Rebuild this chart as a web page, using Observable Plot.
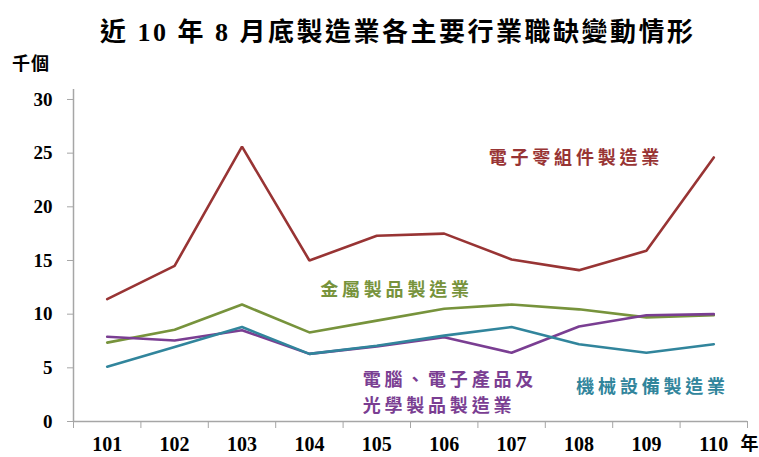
<!DOCTYPE html>
<html>
<head>
<meta charset="utf-8">
<script src="https://cdn.jsdelivr.net/npm/d3@7"></script>
<script src="https://cdn.jsdelivr.net/npm/@observablehq/plot@0.6"></script>
<style>
  html, body { margin: 0; padding: 0; background: #fff; }
  #wrap { position: relative; width: 759px; height: 457px; overflow: hidden; font-family: "Liberation Serif", "Noto Sans CJK TC", serif; }
  #title { position: absolute; left: 100px; top: 15px; white-space: nowrap; font-size: 26px; font-weight: bold; letter-spacing: 2.5px; color: #000; line-height: 36px; z-index: 2; }
  #unit { position: absolute; left: 12px; top: 49px; font-size: 18px; font-weight: bold; color: #000; font-family: "Noto Sans CJK TC", sans-serif; letter-spacing: 1px; z-index: 2; }
  #chart { position: absolute; left: 0; top: 50px; z-index: 1; }
</style>
</head>
<body>
<div id="wrap">
  <div id="chart"></div>
  <div id="title">近 10 年 8 月底製造業各主要行業職缺變動情形</div>
  <div id="unit">千個</div>
</div>
<script>
const years = [101, 102, 103, 104, 105, 106, 107, 108, 109, 110];
const electronicParts = [11.4, 14.5, 25.6, 15.0, 17.3, 17.5, 15.1, 14.1, 15.9, 24.6];
const metalProducts = [7.35, 8.55, 10.9, 8.3, 9.4, 10.5, 10.9, 10.45, 9.7, 9.9];
const computerOptical = [7.9, 7.55, 8.5, 6.3, 7.0, 7.85, 6.4, 8.85, 9.9, 10.0];
const machinery = [5.1, 6.95, 8.8, 6.3, 7.05, 8.0, 8.8, 7.2, 6.4, 7.2];
const yTicks = [0, 5, 10, 15, 20, 25, 30];

const seriesNames = ["電子零組件製造業", "金屬製品製造業", "電腦、電子產品及\n光學製品製造業", "機械設備製造業"];
const seriesValues = [electronicParts, metalProducts, computerOptical, machinery];
const seriesColors = ["#983434", "#77933C", "#7A3E92", "#31859C"];
// label anchor (year position, value) for each series name
const labelX = [106.66, 104.16, 104.79, 107.96];
const labelY = [24.8, 12.5, 2.9, 3.45];

const rows = [];
seriesNames.forEach((name, i) => {
  years.forEach((yr, j) => rows.push({series: name, year: yr, value: seriesValues[i][j]}));
});
const labels = seriesNames.map((name, i) => ({series: name, x: labelX[i], y: labelY[i], color: seriesColors[i]}));
const boundaries = years.map(y => y - 0.5).concat([years[years.length - 1] + 0.5]);

const W = 759, H = 407;
const plot = Plot.plot({
  width: W,
  height: H,
  marginLeft: 73,
  marginRight: 12,
  marginTop: 39,
  marginBottom: 36,
  style: {fontFamily: '"Liberation Serif", "Noto Sans CJK TC", serif', fontSize: "19px", fontWeight: "bold", color: "#000", background: "transparent", overflow: "visible"},
  x: {type: "linear", domain: [boundaries[0], boundaries[boundaries.length - 1]], axis: null},
  y: {domain: [0, 30.93], axis: null},
  color: {domain: seriesNames, range: seriesColors},
  marks: [
    Plot.ruleX([boundaries[0]], {stroke: "#a6a6a6", strokeWidth: 1.5}),
    Plot.ruleY([0], {stroke: "#a6a6a6", strokeWidth: 1.5}),
    Plot.axisY({ticks: yTicks, tickSize: 6, tickPadding: 15, stroke: "#a6a6a6", tickFormat: d => d, fontSize: 19, fill: "#000"}),
    Plot.axisX({ticks: boundaries, tickSize: 7, tickFormat: () => "", stroke: "#a6a6a6"}),
    Plot.axisX({ticks: years, tickSize: 0, tickPadding: 15, tickFormat: d => String(d), fontSize: 20, fill: "#000"}),
    Plot.line(rows, {x: "year", y: "value", z: "series", stroke: "series", strokeWidth: 2.6, strokeLinejoin: "miter"}),
    Plot.text(labels, {x: "x", y: "y", text: "series", fill: "color", textAnchor: "start", fontSize: 18, fontWeight: "bold", lineHeight: 1.45, fontFamily: '"Noto Sans CJK TC", sans-serif'}),
    Plot.text(["年"], {x: years[years.length - 1] + 0.5, y: 0, text: d => d, textAnchor: "start", dx: -7, dy: 23, fontSize: 18, fontWeight: "bold", fill: "#000", fontFamily: '"Noto Sans CJK TC", sans-serif'})
  ]
});
document.getElementById("chart").appendChild(plot);
d3.select(plot).selectAll('g[aria-label="text"]').filter((d, i, n) => i === 0).selectAll("text").attr("letter-spacing", 3.8);
</script>
</body>
</html>
